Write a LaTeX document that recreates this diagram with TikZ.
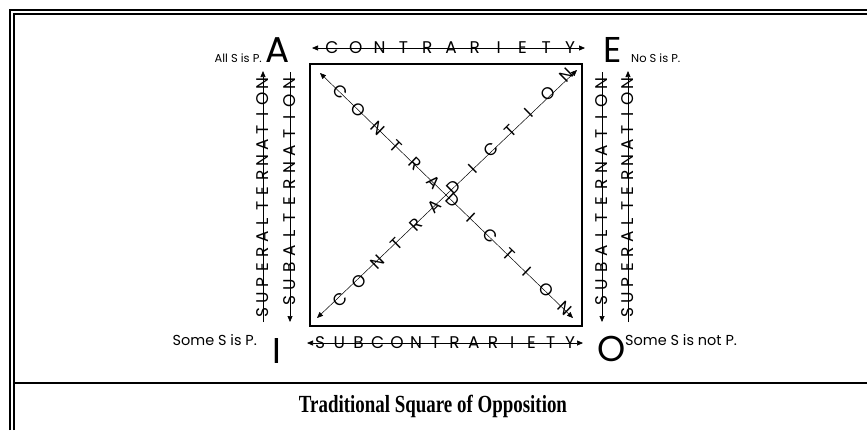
\documentclass[tikz,border=0pt]{standalone}
\usepackage{fontspec}
\setmainfont{Liberation Serif}
\newfontfamily\gothic{Poppins}
\usetikzlibrary{arrows.meta,calc}

\tikzset{
  frame/.style={line width=2bp},
  sqbox/.style={line width=2.6bp},
  tip/.tip={Triangle[length=6bp,width=5bp]},
  relation/.style={line width=0.7bp, tip-tip},
  upward/.style={line width=0.7bp, -tip},
  diag/.style={line width=0.5bp, tip-tip},
  letter/.style={font=\gothic\fontsize{17}{17}\selectfont, inner sep=0pt, sloped},
  corner/.style={font=\gothic\fontsize{36}{36}\selectfont, inner sep=0pt},
  small label/.style={font=\gothic\fontsize{11.5}{11.5}\selectfont, inner sep=0pt},
  big label/.style={font=\gothic\fontsize{14.5}{14.5}\selectfont, inner sep=0pt}
}

\begin{document}
\begin{tikzpicture}[x=1bp, y=-1bp]
  \useasboundingbox (0,0) rectangle (867,430);

  % double frame and caption rule
  \draw[frame] (10,430) -- (10,10) -- (867,10);
  \draw[frame] (14,430) -- (14,14) -- (867,14);
  \draw[frame] (14,383) -- (867,383);

  % the square
  \draw[sqbox] (310,64) rectangle (582,326);

  % corners
  \node[corner] (A) at (278,50) {A};
  \node[corner] (E) at (613,50) {E};
  \node[corner] (I) at (277,351) {I};
  \node[corner] (O) at (612,349) {O};

  \node[small label, anchor=base east] (allS) at (262,62) {All S is P.};
  \node[small label, anchor=base west] (noS) at (631,62) {No S is P.};
  \node[big label, anchor=east] (someS) at (257,340) {Some S is P.};
  \node[big label, anchor=west] (someNot) at (625,340) {Some S is not P.};

  % contrariety
  \coordinate (ctrL) at (312,48);
  \coordinate (ctrR) at (585,48);
  \draw[relation] (ctrL) -- (ctrR);
  \foreach \ch [count=\i, evaluate=\i as \p using (\i-1)/10] in {C,O,N,T,R,A,R,I,E,T,Y}
    \path (332,48) -- (570,48) node[letter, pos=\p] (ctr\i) {\ch};

  % subcontrariety
  \coordinate (subL) at (307,343);
  \coordinate (subR) at (583,343);
  \draw[relation] (subL) -- (subR);
  \foreach \ch [count=\i, evaluate=\i as \p using (\i-1)/13] in {S,U,B,C,O,N,T,R,A,R,I,E,T,Y}
    \path (320,343) -- (570,343) node[letter, pos=\p] (sub\i) {\ch};

  % superalternation, left and right
  \coordinate (supLb) at (263,322);
  \coordinate (supLt) at (263,71);
  \coordinate (supRb) at (628,322);
  \coordinate (supRt) at (628,71);
  \draw[upward] (supLb) -- (supLt);
  \draw[upward] (supRb) -- (supRt);
  \foreach \ch [count=\i, evaluate=\i as \p using (\i-1)/15] in {S,U,P,E,R,A,L,T,E,R,N,A,T,I,O,N} {
    \path (263,313) -- (263,84) node[letter, pos=\p] (supL\i) {\ch};
    \path (628,313) -- (628,84) node[letter, pos=\p] (supR\i) {\ch};
  }

  % subalternation, left and right
  \coordinate (sbLt) at (290,72);
  \coordinate (sbLb) at (290,322);
  \coordinate (sbRt) at (602,72);
  \coordinate (sbRb) at (602,322);
  \draw[upward] (sbLt) -- (sbLb);
  \draw[upward] (sbRt) -- (sbRb);
  \foreach \ch [count=\i, evaluate=\i as \p using (\i-1)/13] in {S,U,B,A,L,T,E,R,N,A,T,I,O,N} {
    \path (290,301) -- (290,84) node[letter, pos=\p] (sbL\i) {\ch};
    \path (602,301) -- (602,84) node[letter, pos=\p] (sbR\i) {\ch};
  }

  % contradiction, both diagonals
  \coordinate (dTL) at (320,73);
  \coordinate (dBR) at (573,318);
  \coordinate (dBL) at (317,318);
  \coordinate (dTR) at (577,70);
  \draw[diag] (dTL) -- (dBR);
  \draw[diag] (dBL) -- (dTR);
  \foreach \ch [count=\i, evaluate=\i as \p using (\i-1)/12] in {C,O,N,T,R,A,D,I,C,T,I,O,N} {
    \path (340,92) -- (565,308) node[letter, pos=\p] (cdA\i) {\ch};
    \path (340,300) -- (567,75) node[letter, pos=\p] (cdB\i) {\ch};
  }

  % caption
  \node[font=\bfseries\fontsize{19}{19}\selectfont] (title) at (433,406) {\scalebox{1}[1.3]{Traditional Square of Opposition}};
\end{tikzpicture}
\end{document}
